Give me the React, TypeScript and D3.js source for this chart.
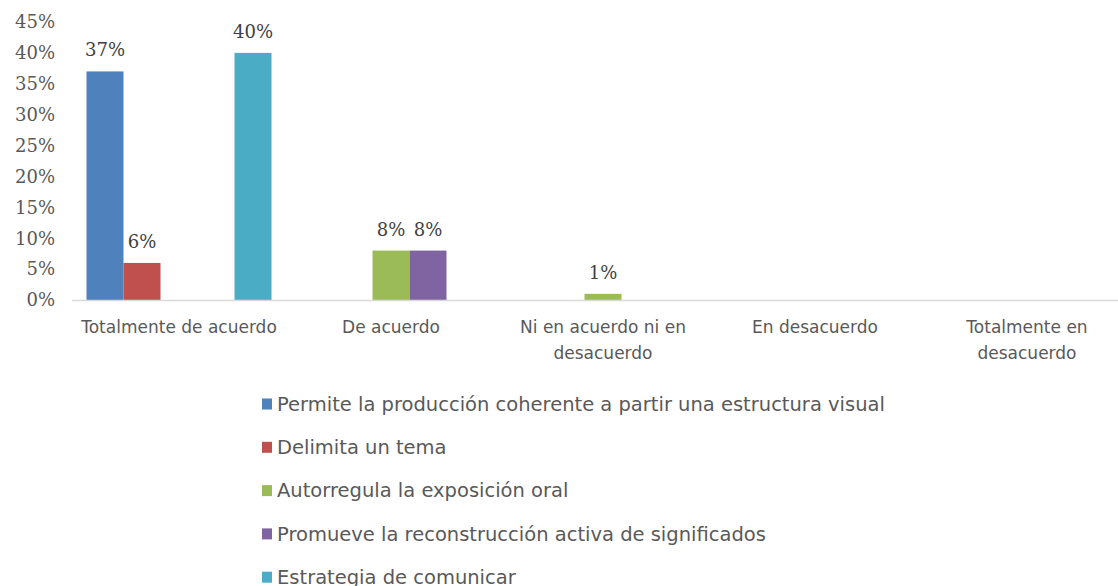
import React from "react";
import * as d3 from "d3";

const categories = [
  ["Totalmente de acuerdo"],
  ["De acuerdo"],
  ["Ni en acuerdo ni en", "desacuerdo"],
  ["En desacuerdo"],
  ["Totalmente en", "desacuerdo"],
];
const seriesNames = [
  "Permite la producción coherente a partir una estructura visual",
  "Delimita un tema",
  "Autorregula la exposición oral",
  "Promueve la reconstrucción activa de significados",
  "Estrategia de comunicar",
];
const seriesColors = ["#4F81BD", "#C0504D", "#9BBB59", "#8064A2", "#4BACC6"];
// values per series, per category (null = no bar)
const s1 = [0.37, null, null, null, null];
const s2 = [0.06, null, null, null, null];
const s3 = [null, 0.08, 0.01, null, null];
const s4 = [null, 0.08, null, null, null];
const s5 = [0.40, null, null, null, null];
const seriesValues = [s1, s2, s3, s4, s5];
const yTicks = [0, 0.05, 0.1, 0.15, 0.2, 0.25, 0.3, 0.35, 0.4, 0.45];

export default function App() {
  const W = 1118, H = 586;
  const y = d3.scaleLinear().domain([0, 0.45]).range([300, 22]);
  const x0 = d3
    .scaleBand<number>()
    .domain(categories.map((_, i) => i))
    .range([73, 1133])
    .paddingInner(0.1274)
    .paddingOuter(0.0637);
  const x1 = d3
    .scaleBand<number>()
    .domain(seriesNames.map((_, i) => i))
    .range([0, x0.bandwidth()]);
  const fmt = d3.format(".0%");
  const serif = "'DejaVu Serif', serif";
  const sans = "'DejaVu Sans', sans-serif";

  return (
    <svg width={W} height={H} style={{ position: "absolute", left: 0, top: 0, background: "#fff" }}>
      {/* y tick labels */}
      {yTicks.map((t) => (
        <text key={t} x={55} y={y(t)} dy="0.35em" textAnchor="end" fontFamily={serif} fontSize={18} fill="#595959">
          {fmt(t)}
        </text>
      ))}
      {/* bars */}
      {seriesValues.map((vals, si) =>
        vals.map((v, ci) =>
          v == null ? null : (
            <rect
              key={`${si}-${ci}`}
              x={(x0(ci) as number) + (x1(si) as number)}
              y={y(v)}
              width={x1.bandwidth()}
              height={y(0) - y(v)}
              fill={seriesColors[si]}
            />
          )
        )
      )}
      {/* axis line */}
      <line x1={72} x2={W} y1={y(0) + 0.5} y2={y(0) + 0.5} stroke="#D9D9D9" strokeWidth={1.5} />
      {/* data labels */}
      {seriesValues.map((vals, si) =>
        vals.map((v, ci) =>
          v == null ? null : (
            <text
              key={`l${si}-${ci}`}
              x={(x0(ci) as number) + (x1(si) as number) + x1.bandwidth() / 2}
              y={y(v) - 15}
              textAnchor="middle"
              fontFamily={serif}
              fontSize={18}
              fill="#404040"
            >
              {fmt(v)}
            </text>
          )
        )
      )}
      {/* category labels */}
      {categories.map((lines, ci) => (
        <text
          key={`c${ci}`}
          x={(x0(ci) as number) + x0.bandwidth() / 2}
          textAnchor="middle"
          fontFamily={sans}
          fontSize={17}
          fill="#595959"
        >
          {lines.map((ln, li) => (
            <tspan key={li} x={(x0(ci) as number) + x0.bandwidth() / 2} y={333 + li * 26}>
              {ln}
            </tspan>
          ))}
        </text>
      ))}
      {/* legend */}
      {seriesNames.map((name, si) => {
        const cy = 404 + si * 43.3;
        return (
          <g key={`lg${si}`}>
            <rect x={262} y={cy - 5.5} width={10} height={11} fill={seriesColors[si]} />
            <text x={277} y={cy} dy="0.35em" fontFamily={sans} fontSize={19.5} fill="#595959">
              {name}
            </text>
          </g>
        );
      })}
    </svg>
  );
}
